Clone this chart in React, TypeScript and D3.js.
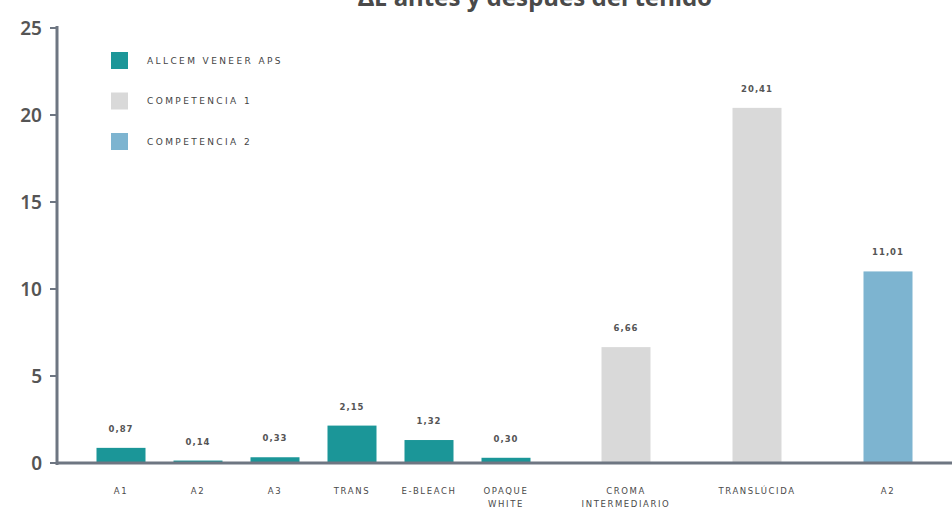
import React from "react";
import * as d3 from "d3";

const titleText = "ΔE antes y después del teñido";
const groupA = ["A1", "A2", "A3", "TRANS", "E-BLEACH", "OPAQUE WHITE"];
const valuesA = [0.87, 0.14, 0.33, 2.15, 1.32, 0.3];
const groupB = ["CROMA INTERMEDIARIO", "TRANSLÚCIDA", "A2"];
const valuesB = [6.66, 20.41, 11.01];
const seriesB = ["COMPETENCIA 1", "COMPETENCIA 1", "COMPETENCIA 2"];
const legendNames = ["ALLCEM VENEER APS", "COMPETENCIA 1", "COMPETENCIA 2"];
const yTicks = [0, 5, 10, 15, 20, 25];

const colors: Record<string, string> = {
  "ALLCEM VENEER APS": "#1b9698",
  "COMPETENCIA 1": "#d9d9d9",
  "COMPETENCIA 2": "#7db4d0",
};

const W = 952;
const H = 509;
const FONT = "'Noto Sans', 'DejaVu Sans', sans-serif";
const SMALL = "'DejaVu Sans', sans-serif";

export default function App() {
  const y = d3.scaleLinear().domain([0, 25]).range([463, 28]);
  const xA = d3.scaleBand<string>().domain(groupA).range([82.5, 544.5]).paddingInner(0.37).paddingOuter(0.185);
  const xB = d3.scaleBand<string>().domain(groupB.map((d, i) => d + "|" + i)).range([560.5, 953.5]).paddingInner(0.63).paddingOuter(0.315);
  const bw = 49;

  const bars: { key: string; label: string; v: number; cx: number; color: string }[] = [];
  groupA.forEach((c, i) => {
    bars.push({ key: "a" + i, label: c, v: valuesA[i], cx: (xA(c) as number) + xA.bandwidth() / 2, color: colors["ALLCEM VENEER APS"] });
  });
  groupB.forEach((c, i) => {
    const k = c + "|" + i;
    bars.push({ key: "b" + i, label: c, v: valuesB[i], cx: (xB(k) as number) + xB.bandwidth() / 2, color: colors[seriesB[i]] });
  });

  const fmt = (v: number) => d3.format(".2f")(v).replace(".", ",");
  const axisColor = "#6e7682";

  return (
    <svg width={W} height={H} style={{ position: "absolute", left: 0, top: 0, background: "#fff" }} fontFamily={FONT}>
      <text x={535} y={6} textAnchor="middle" fontSize={24} fontWeight={700} fill="#4a4a4a">
        {titleText}
      </text>
      {bars.map((b) => (
        <g key={b.key}>
          <rect x={b.cx - bw / 2} y={y(b.v)} width={bw} height={y(0) - y(b.v)} fill={b.color} />
          <text x={b.cx} y={y(b.v) - 16} textAnchor="middle" fontSize={8.5} fontWeight={600} fill="#555" letterSpacing={1} fontFamily={SMALL}>
            {fmt(b.v)}
          </text>
          {b.label.split(" ").map((w, j) => (
            <text key={j} x={b.cx} y={494 + j * 13} textAnchor="middle" fontSize={8.5} fill="#4a4a4a" letterSpacing={1.6} fontFamily={SMALL}>
              {w}
            </text>
          ))}
        </g>
      ))}
      <line x1={57} x2={57} y1={y(25) - 2} y2={y(0) + 2} stroke={axisColor} strokeWidth={3} />
      <line x1={57} x2={W} y1={y(0)} y2={y(0)} stroke={axisColor} strokeWidth={3} />
      {yTicks.map((t) => (
        <g key={t}>
          <line x1={50} x2={57} y1={y(t)} y2={y(t)} stroke={axisColor} strokeWidth={2} />
          <text x={42} y={y(t)} dy="0.35em" textAnchor="end" fontSize={19} fontWeight={600} fill="#555">
            {t}
          </text>
        </g>
      ))}
      {legendNames.map((n, i) => (
        <g key={n}>
          <rect x={111} y={52 + i * 40.5} width={17} height={17} fill={colors[n]} />
          <text x={147} y={60.5 + i * 40.5} dy="0.35em" fontSize={9} fill="#444" letterSpacing={2.4} fontFamily={SMALL}>
            {n}
          </text>
        </g>
      ))}
    </svg>
  );
}
